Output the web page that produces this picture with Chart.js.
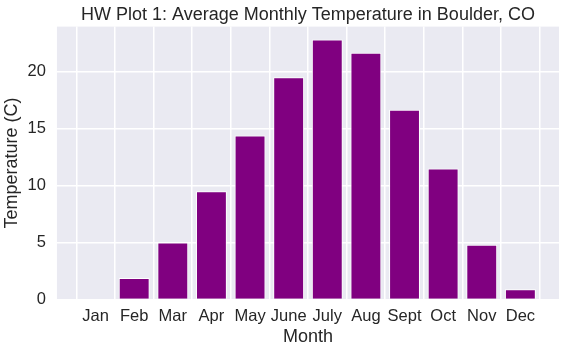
<!DOCTYPE html>
<html>
<head>
<meta charset="utf-8">
<script src="https://cdn.jsdelivr.net/npm/chart.js@4"></script>
<style>
html,body{margin:0;padding:0;background:#fff;}
#wrap{width:566px;height:352px;}
</style>
</head>
<body>
<div id="wrap"><canvas id="c" width="566" height="352"></canvas></div>
<script>
const months = ['Jan','Feb','Mar','Apr','May','June','July','Aug','Sept','Oct','Nov','Dec'];
const monthPositions = [1,2,3,4,5,6,7,8,9,10,11,12];
const temps = [0.0, 1.9, 5.0, 9.5, 14.4, 19.5, 22.8, 21.65, 16.65, 11.5, 4.8, 0.9];
const yTicks = [0,5,10,15,20];

const points = monthPositions.map((p,i)=>({x:p, y:temps[i]}));
const ink = '#262626';
const FONT = "'Liberation Sans', Arial, sans-serif";

const bgPlugin = {
  id:'bg',
  beforeDraw(chart){
    const {ctx, chartArea:a} = chart;
    ctx.save();
    ctx.fillStyle = '#EAEAF2';
    ctx.fillRect(a.left, a.top, a.right-a.left, a.bottom-a.top);
    ctx.restore();
  }
};

new Chart(document.getElementById('c'), {
  type:'bar',
  data:{ datasets:[{ data: points, backgroundColor:'#800080', borderColor:'#ffffff', borderWidth:1, borderSkipped:'start', barPercentage:0.8, categoryPercentage:1.0 }]},
  options:{
    responsive:false, animation:false, devicePixelRatio:1,
    layout:{ padding:{ left:1.5, right:7, top:0, bottom:4 } },
    plugins:{
      legend:{display:false}, tooltip:{enabled:false},
      title:{ display:true, text:'HW Plot 1: Average Monthly Temperature in Boulder, CO', color:ink, fullSize:false,
        font:{family:FONT, size:18, weight:'normal'}, padding:{top:4, bottom:1} }
    },
    scales:{
      x:{ type:'linear', min:0, max:13, offset:false,
        afterBuildTicks(s){ s.ticks = [0, ...monthPositions, 13].map(v=>({value:v})); },
        ticks:{ color:ink, font:{family:FONT, size:16.5}, padding:7, autoSkip:false, maxRotation:0,
          callback:(v)=> { const i = monthPositions.indexOf(v); return i >= 0 ? months[i] : ''; } },
        grid:{ color:'#ffffff', lineWidth:1.5, drawTicks:false, tickLength:0 },
        border:{ display:false },
        title:{ display:true, text:'Month', color:ink, font:{family:FONT, size:18}, padding:{top:-7, bottom:0} }
      },
      y:{ min:0, max:23.94,
        afterBuildTicks(s){ s.ticks = yTicks.map(v=>({value:v})); },
        ticks:{ color:ink, font:{family:FONT, size:16.5}, padding:11 },
        grid:{ color:'#ffffff', lineWidth:1.5, drawTicks:false, tickLength:0 },
        border:{ display:false },
        title:{ display:true, text:'Temperature (C)', color:ink, font:{family:FONT, size:18}, padding:{top:0, bottom:-6.5} }
      }
    }
  },
  plugins:[bgPlugin]
});
</script>
</body>
</html>
